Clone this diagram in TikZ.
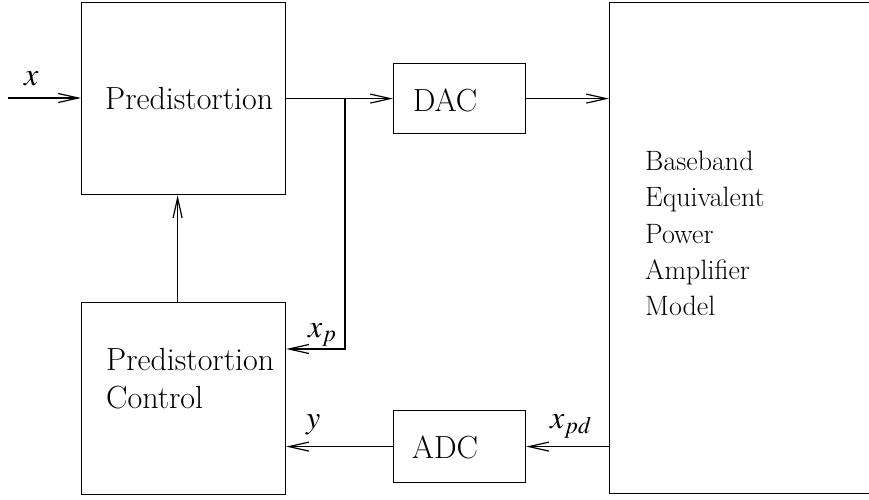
\documentclass[tikz,border=0pt]{standalone}
\usepackage{mathptmx}
\usetikzlibrary{arrows.meta}
% text set in Times at block and label sizes
\newcommand{\bigtx}[1]{{\fontsize{32}{36}\selectfont #1}}
\newcommand{\midtx}[1]{{\fontsize{28}{34}\selectfont #1}}
\begin{document}
\begin{tikzpicture}[x=1pt,y=-1pt,
  blk/.style={draw, line width=1.2pt, inner sep=0pt, anchor=north west},
  sig/.style={line width=1.2pt, -{Straight Barb[length=20pt,width=9pt]}},
  txt/.style={inner sep=0pt, anchor=base west}]
\useasboundingbox (0,0) rectangle (869,500);

% blocks (the amplifier block runs on past the right margin)
\node[blk, minimum width=204pt, minimum height=192pt] (pre) at (81,2) {};
\node[blk, minimum width=204pt, minimum height=192pt] (ctl) at (81,302) {};
\node[blk, minimum width=132pt, minimum height=70pt]  (dac) at (393,63) {};
\node[blk, minimum width=132pt, minimum height=72pt]  (adc) at (393,410) {};
\node[blk, minimum width=300pt, minimum height=491pt] (pa)  at (609,2) {};

% block texts
\node[txt] (preT)  at (105,110) {\bigtx{Predistortion}};
\node[txt] (ctlT1) at (106,370) {\bigtx{Predistortion}};
\node[txt] (ctlT2) at (106,408) {\bigtx{Control}};
\node[txt, anchor=base] (dacT) at (445,111) {\bigtx{DAC}};
\node[txt, anchor=base] (adcT) at (445,458) {\bigtx{ADC}};
\node[txt] (pa1) at (645,170) {\midtx{Baseband}};
\node[txt] (pa2) at (645,206) {\midtx{Equivalent}};
\node[txt] (pa3) at (645,243) {\midtx{Power}};
\node[txt] (pa4) at (645,279) {\midtx{Amplifier}};
\node[txt] (pa5) at (645,315) {\midtx{Model}};

% signal paths
\coordinate (xin) at (8,98);
\coordinate (br) at (345,98);
\coordinate (brdown) at (345,349);
\draw[sig] (xin) -- (xin -| pre.west);
\draw[sig] (pre.east) -- (dac.west);
\draw[sig] (dac.east) -- (dac.east -| pa.west);
\draw[sig] (br) -- (brdown) -- (brdown -| ctl.east);
\draw[sig] ([xshift=-6pt]ctl.north) -- ([xshift=-6pt]pre.south);
\draw[sig] (adc.east -| pa.west) -- (adc.east);
\draw[sig] (adc.west) -- (adc.west -| ctl.east);

% signal labels
\node[txt] (xL)   at (24,86)   {\bigtx{$x$}};
\node[txt] (xpL)  at (308,337) {\bigtx{$x_p$}};
\node[txt] (yL)   at (306,428) {\bigtx{$y$}};
\node[txt] (xpdL) at (550,428) {\bigtx{$x_{pd}$}};
\end{tikzpicture}
\end{document}
